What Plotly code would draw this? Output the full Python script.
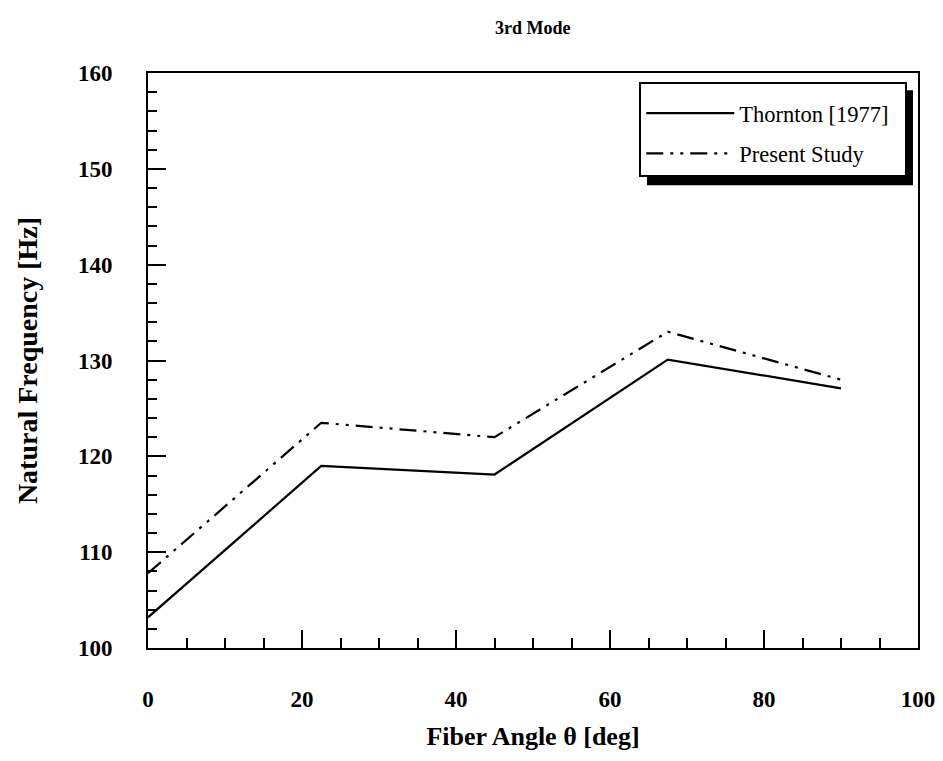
import plotly.graph_objects as go

fiber_angle = [0, 22.5, 45, 67.5, 90]
thornton_1977 = [103.2, 119.0, 118.1, 130.1, 127.1]
present_study = [107.8, 123.5, 122.0, 133.0, 128.0]

x_ticks = [0, 20, 40, 60, 80, 100]
y_ticks = [100, 110, 120, 130, 140, 150, 160]

FONT = "Liberation Serif"

fig = go.Figure()
fig.add_trace(go.Scatter(x=fiber_angle, y=thornton_1977, mode="lines",
                         name="Thornton [1977]\u00a0\u00a0", legendgroup="a",
                         line=dict(color="black", width=2.2)))
fig.add_trace(go.Scatter(x=fiber_angle, y=present_study, mode="lines",
                         name="Present Study", legendgroup="b",
                         line=dict(color="black", width=2.2,
                                   dash="17px,7px,3px,7px,3px,7px")))

axis_common = dict(showgrid=False, zeroline=False, showline=True,
                   linecolor="black", linewidth=2, mirror=True, automargin=False,
                   ticks="inside", ticklen=18, tickwidth=1.5, tickcolor="black",
                   tickfont=dict(family=FONT, size=23, color="black", weight="bold"))

fig.update_xaxes(range=[0, 100], tickvals=x_ticks, ticklabelstandoff=29,
                 minor=dict(ticks="inside", dtick=5, ticklen=10, tickwidth=1.5, tickcolor="black"),
                 title=dict(text="Fiber Angle \u03b8 [deg]", standoff=16,
                            font=dict(family=FONT, size=26, color="black", weight="bold")),
                 **axis_common)
fig.update_yaxes(range=[100, 160], tickvals=y_ticks, ticklabelstandoff=29,
                 minor=dict(ticks="inside", dtick=2, ticklen=9, tickwidth=1.5, tickcolor="black"),
                 title=dict(text="Natural Frequency [Hz]", standoff=32,
                            font=dict(family=FONT, size=28, color="black", weight="bold")),
                 **axis_common)

# legend drop shadow
fig.add_shape(type="rect", xref="paper", yref="paper",
              x0=0.648, x1=0.9935, y0=0.805, y1=0.970,
              fillcolor="black", line=dict(width=0), layer="above")

fig.update_layout(
    width=943, height=761,
    margin=dict(l=148, r=25, t=73, b=113),
    paper_bgcolor="white", plot_bgcolor="white",
    title=dict(text="3rd Mode", x=0.565, xanchor="center", y=0.963, yanchor="middle",
               font=dict(family=FONT, size=18, color="black", weight="bold")),
    legend=dict(x=0.638, y=0.984, xanchor="left", yanchor="top",
                bgcolor="white", bordercolor="black", borderwidth=2,
                font=dict(family=FONT, size=22.5, color="black"),
                title=dict(text="\u00a0", font=dict(size=6)),
                itemwidth=88, tracegroupgap=8),
    showlegend=True,
)

fig.write_html("out.html")
